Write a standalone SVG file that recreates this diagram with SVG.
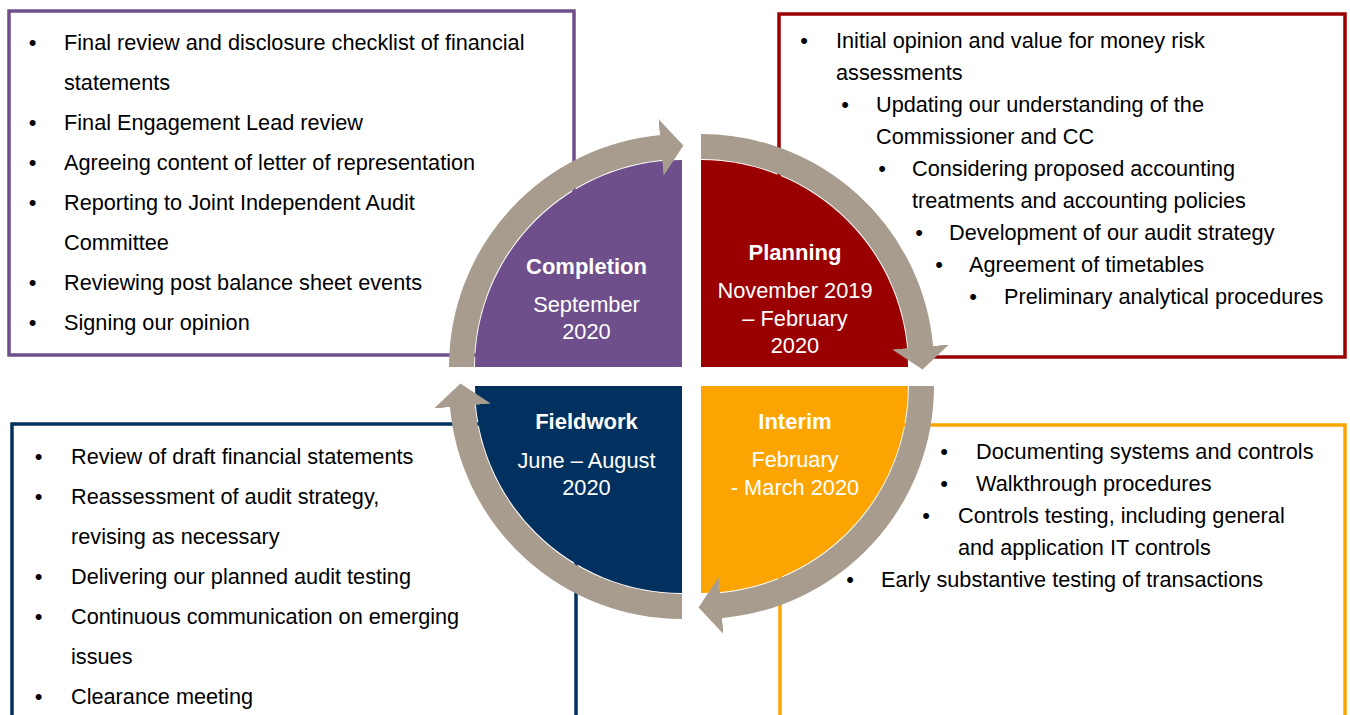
<svg xmlns="http://www.w3.org/2000/svg" width="1350" height="715" viewBox="0 0 1350 715">
<style>
  .t { font-family: "Liberation Sans", Arial, sans-serif; font-size: 21.7px; fill: #000; }
  .b { font-family: "Liberation Sans", Arial, sans-serif; font-size: 22px; fill: #000; text-anchor: middle; }
  .ttl { font-family: "Liberation Sans", Arial, sans-serif; font-size: 22px; font-weight: bold; fill: #fff; text-anchor: middle; }
  .sub { font-family: "Liberation Sans", Arial, sans-serif; font-size: 21.8px; fill: #fff; text-anchor: middle; }
  .box { fill: #fff; stroke-width: 3.5; }
  .arc { fill: none; stroke: #A89C8F; stroke-width: 25; }
</style>
<defs>
  <marker id="ah" markerUnits="userSpaceOnUse" viewBox="-1 -30 25 60" markerWidth="25" markerHeight="60" refX="0" refY="0" orient="auto">
    <path d="M-1,-28.5 L21.5,0 L-1,28.5 Z" fill="#A89C8F"/>
  </marker>
</defs>
<rect width="1350" height="715" fill="#fff"/>

<g id="completion">
  <rect class="box" x="9" y="11" width="565" height="344" stroke="#6E4F8B"/>
  <text class="b" x="32.5" y="50">•</text><text class="t" x="64" y="50">Final review and disclosure checklist of financial</text>
  <text class="t" x="64" y="90">statements</text>
  <text class="b" x="32.5" y="130">•</text><text class="t" x="64" y="130">Final Engagement Lead review</text>
  <text class="b" x="32.5" y="170">•</text><text class="t" x="64" y="170">Agreeing content of letter of representation</text>
  <text class="b" x="32.5" y="210">•</text><text class="t" x="64" y="210">Reporting to Joint Independent Audit</text>
  <text class="t" x="64" y="250">Committee</text>
  <text class="b" x="32.5" y="290">•</text><text class="t" x="64" y="290">Reviewing post balance sheet events</text>
  <text class="b" x="32.5" y="330">•</text><text class="t" x="64" y="330">Signing our opinion</text>
  <path d="M682,367 L475,367 A207,207 0 0 1 682,160 Z" fill="#6E4F8B"/>
  <text class="ttl" x="586.5" y="273.5">Completion</text>
  <text class="sub" x="586.5" y="311.5">September</text>
  <text class="sub" x="586.5" y="339">2020</text>
</g>

<g id="planning">
  <rect class="box" x="779" y="14" width="566" height="343" stroke="#9A0000"/>
  <text class="b" x="804" y="48">•</text><text class="t" x="836" y="48">Initial opinion and value for money risk</text>
  <text class="t" x="836" y="80">assessments</text>
  <text class="b" x="845" y="112">•</text><text class="t" x="876" y="112">Updating our understanding of the</text>
  <text class="t" x="876" y="144">Commissioner and CC</text>
  <text class="b" x="882" y="176">•</text><text class="t" x="912" y="176">Considering proposed accounting</text>
  <text class="t" x="912" y="208">treatments and accounting policies</text>
  <text class="b" x="919" y="240">•</text><text class="t" x="949" y="240">Development of our audit strategy</text>
  <text class="b" x="939" y="272">•</text><text class="t" x="969" y="272">Agreement of timetables</text>
  <text class="b" x="973" y="304">•</text><text class="t" x="1004" y="304">Preliminary analytical procedures</text>
  <path d="M701,367 L701,160 A207,207 0 0 1 908,367 Z" fill="#9A0000"/>
  <text class="ttl" x="795" y="260">Planning</text>
  <text class="sub" x="795" y="298">November 2019</text>
  <text class="sub" x="795" y="325.5">– February</text>
  <text class="sub" x="795" y="353">2020</text>
</g>

<g id="interim">
  <rect class="box" x="780" y="425" width="565" height="320" stroke="#FCA502"/>
  <text class="b" x="944" y="459">•</text><text class="t" x="976" y="459">Documenting systems and controls</text>
  <text class="b" x="944" y="491">•</text><text class="t" x="976" y="491">Walkthrough procedures</text>
  <text class="b" x="926" y="523">•</text><text class="t" x="958" y="523">Controls testing, including general</text>
  <text class="t" x="958" y="555">and application IT controls</text>
  <text class="b" x="850" y="587">•</text><text class="t" x="881" y="587">Early substantive testing of transactions</text>
  <path d="M701,386 L908,386 A207,207 0 0 1 701,593 Z" fill="#FCA502"/>
  <text class="ttl" x="795" y="429">Interim</text>
  <text class="sub" x="795" y="467">February</text>
  <text class="sub" x="795" y="494.5">- March 2020</text>
</g>

<g id="fieldwork">
  <rect class="box" x="12" y="424" width="564" height="320" stroke="#02315F"/>
  <text class="b" x="38.5" y="463.5">•</text><text class="t" x="71" y="463.5">Review of draft financial statements</text>
  <text class="b" x="38.5" y="503.5">•</text><text class="t" x="71" y="503.5">Reassessment of audit strategy,</text>
  <text class="t" x="71" y="543.5">revising as necessary</text>
  <text class="b" x="38.5" y="583.5">•</text><text class="t" x="71" y="583.5">Delivering our planned audit testing</text>
  <text class="b" x="38.5" y="623.5">•</text><text class="t" x="71" y="623.5">Continuous communication on emerging</text>
  <text class="t" x="71" y="663.5">issues</text>
  <text class="b" x="38.5" y="703.5">•</text><text class="t" x="71" y="703.5">Clearance meeting</text>
  <path d="M682,386 L682,593 A207,207 0 0 1 475,386 Z" fill="#02315F"/>
  <text class="ttl" x="586.5" y="429">Fieldwork</text>
  <text class="sub" x="586.5" y="467.5">June – August</text>
  <text class="sub" x="586.5" y="494.5">2020</text>
</g>

<g id="connectors">
  <path class="arc" d="M461.5,367 A220.5,220.5 0 0 1 662,147.4" marker-end="url(#ah)"/>
  <path class="arc" d="M701,146.5 A220.5,220.5 0 0 1 920.7,348" marker-end="url(#ah)"/>
  <path class="arc" d="M921.5,386 A220.5,220.5 0 0 1 720,605.7" marker-end="url(#ah)"/>
  <path class="arc" d="M682,606.5 A220.5,220.5 0 0 1 462.3,405" marker-end="url(#ah)"/>
</g>
</svg>
